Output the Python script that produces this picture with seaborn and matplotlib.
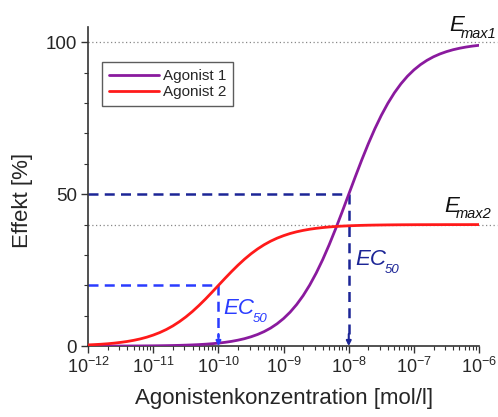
import numpy as np
import pandas as pd
import matplotlib
matplotlib.use("Agg")
import matplotlib.pyplot as plt
import seaborn as sns
from matplotlib.ticker import LogLocator, MultipleLocator, NullFormatter

# Concentration grid (log10 of mol/l), tenth-decade steps
log_conc = [-12.0, -11.9, -11.8, -11.7, -11.6, -11.5, -11.4, -11.3, -11.2, -11.1,
            -11.0, -10.9, -10.8, -10.7, -10.6, -10.5, -10.4, -10.3, -10.2, -10.1,
            -10.0, -9.9, -9.8, -9.7, -9.6, -9.5, -9.4, -9.3, -9.2, -9.1,
            -9.0, -8.9, -8.8, -8.7, -8.6, -8.5, -8.4, -8.3, -8.2, -8.1,
            -8.0, -7.9, -7.8, -7.7, -7.6, -7.5, -7.4, -7.3, -7.2, -7.1,
            -7.0, -6.9, -6.8, -6.7, -6.6, -6.5, -6.4, -6.3, -6.2, -6.1,
            -6.0]

# Effect [%] for each agonist
effect_agonist1 = [0.01, 0.01, 0.02, 0.02, 0.03, 0.03, 0.04, 0.05, 0.06, 0.08,
                   0.10, 0.13, 0.16, 0.20, 0.25, 0.32, 0.40, 0.50, 0.63, 0.79,
                   0.99, 1.24, 1.56, 1.96, 2.45, 3.07, 3.83, 4.77, 5.93, 7.36,
                   9.09, 11.18, 13.68, 16.63, 20.08, 24.03, 28.47, 33.39, 38.69, 44.27,
                   50.00, 55.73, 61.31, 66.61, 71.53, 75.97, 79.92, 83.37, 86.32, 88.82,
                   90.91, 92.64, 94.06, 95.23, 96.17, 96.93, 97.55, 98.04, 98.44, 98.76,
                   99.01]
effect_agonist2 = [0.40, 0.50, 0.62, 0.78, 0.98, 1.23, 1.53, 1.91, 2.37, 2.94,
                   3.64, 4.47, 5.47, 6.65, 8.04, 9.61, 11.39, 13.36, 15.47, 17.71,
                   20.00, 22.29, 24.52, 26.64, 28.61, 30.39, 31.97, 33.35, 34.53, 35.53,
                   36.36, 37.06, 37.63, 38.09, 38.47, 38.77, 39.02, 39.22, 39.38, 39.50,
                   39.60, 39.68, 39.75, 39.80, 39.84, 39.87, 39.90, 39.92, 39.94, 39.95,
                   39.96, 39.97, 39.97, 39.98, 39.98, 39.99, 39.99, 39.99, 39.99, 40.00,
                   40.00]

agonists = ["Agonist 1", "Agonist 2"]
emax = [100.0, 40.0]
ec50 = [1e-8, 1e-10]
emax_subs = ["max1", "max2"]

curve_colors = ["#8a1a9e", "#ff1a1a"]
guide_colors = ["#1c2596", "#2a3cff"]

df = pd.DataFrame({
    "conc": np.concatenate([10.0 ** np.array(log_conc)] * 2),
    "effect": effect_agonist1 + effect_agonist2,
    "agonist": [agonists[0]] * len(log_conc) + [agonists[1]] * len(log_conc),
})

sns.set_theme(style="ticks")
plt.rcParams["font.family"] = ["Liberation Sans", "DejaVu Sans"]
plt.rcParams["mathtext.fontset"] = "custom"
plt.rcParams["mathtext.rm"] = "Liberation Sans"
plt.rcParams["mathtext.it"] = "Liberation Sans:italic"

W, H = 498, 417
fig = plt.figure(figsize=(W / 100, H / 100), dpi=100)
ax = fig.add_axes([0.177, 0.170, 0.785, 0.765])

sns.lineplot(data=df, x="conc", y="effect", hue="agonist",
             palette=dict(zip(agonists, curve_colors)), linewidth=2,
             ax=ax, legend=True, zorder=3)

ax.set_xscale("log")
ax.set_xlim(1e-12, 1e-6)
ax.set_ylim(0, 105)

# Maximal effect reference lines
for e in emax:
    ax.plot([1e-12, 1.9e-6], [e, e], linestyle=(0, (1, 2)), color="#888888",
            linewidth=0.9, clip_on=False, zorder=1)

# EC50 guide lines: half-maximal effect across, then down to the axis
for e, c, col in zip(emax, ec50, guide_colors):
    half = e / 2
    ax.plot([1e-12, c], [half, half], linestyle=(0, (4, 2.5)), color=col,
            linewidth=1.8, zorder=2)
    ax.plot([c, c], [half, 3], linestyle=(0, (4, 2.5)), color=col,
            linewidth=1.8, zorder=2)
    ax.annotate("", xy=(c, 0), xytext=(c, 4),
                arrowprops=dict(arrowstyle="-|>", color=col, lw=1.5,
                                mutation_scale=7, shrinkA=0, shrinkB=0))


def fig_text(px, py, s, **kw):
    """Place text at a pixel position measured from the top-left corner."""
    fig.text(px / W, 1 - py / H, s, va="baseline", ha="left",
             style="italic", **kw)


# Labels with a large letter and a small subscript
fig_text(223, 314, "EC", fontsize=16, color=guide_colors[1])
fig_text(253, 322, "50", fontsize=9.5, color=guide_colors[1])
fig_text(355, 265, "EC", fontsize=16, color=guide_colors[0])
fig_text(385, 273, "50", fontsize=9.5, color=guide_colors[0])
fig_text(449, 31, "E", fontsize=16, color="#111111")
fig_text(461, 38, emax_subs[0], fontsize=10.5, color="#111111")
fig_text(444, 212, "E", fontsize=16, color="#111111")
fig_text(456, 218, emax_subs[1], fontsize=10.5, color="#111111")

ax.xaxis.set_major_locator(LogLocator(base=10, numticks=10))
ax.xaxis.set_minor_locator(LogLocator(base=10, subs=np.arange(2, 10), numticks=20))
ax.xaxis.set_minor_formatter(NullFormatter())
ax.yaxis.set_major_locator(MultipleLocator(50))
ax.yaxis.set_minor_locator(MultipleLocator(10))

ax.tick_params(axis="both", which="major", direction="out", length=5, width=1,
               labelsize=13, color="#333333", pad=3)
ax.tick_params(axis="y", which="major", labelsize=13.5)
ax.tick_params(axis="both", which="minor", direction="out", length=3, width=0.8,
               color="#333333")
for side in ("top", "right"):
    ax.spines[side].set_visible(False)
for side in ("left", "bottom"):
    ax.spines[side].set_color("#333333")
    ax.spines[side].set_linewidth(1.2)

ax.set_xlabel("Agonistenkonzentration [mol/l]", fontsize=16, labelpad=8)
ax.set_ylabel("Effekt [%]", fontsize=16)
ax.yaxis.set_label_coords(-0.14, 0.458)

leg = ax.legend(title=None, loc="upper left", bbox_to_anchor=(0.035, 0.89),
                fontsize=11, frameon=True, fancybox=False, edgecolor="#333333",
                handlelength=3.3, borderpad=0.45, labelspacing=0.15,
                handletextpad=0.25, borderaxespad=0)
leg.get_frame().set_linewidth(1.0)
for line in leg.get_lines():
    line.set_linewidth(2)

fig.savefig("out.png", dpi=100)
